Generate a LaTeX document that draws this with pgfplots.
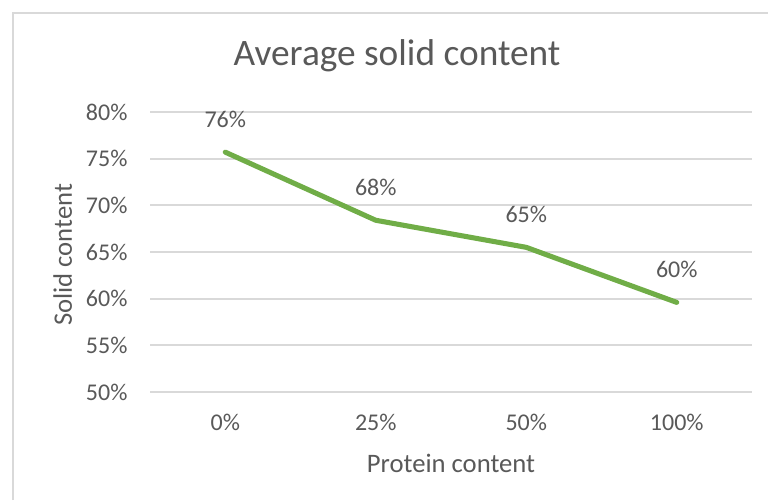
\documentclass[border=0pt]{standalone}
\usepackage{fontspec}
\setmainfont{Carlito}
\usepackage{pgfplots}
\pgfplotsset{compat=1.18}
\definecolor{txt}{HTML}{595959}
\definecolor{gridc}{HTML}{D9D9D9}
\definecolor{ln}{HTML}{70AD47}
\begin{document}
\begin{tikzpicture}
\useasboundingbox (0,0) rectangle (288pt,187.5pt);
\draw[gridc, line width=0.75pt] (4.69pt,0pt) -- (4.69pt,182.6pt) -- (288pt,182.6pt);
\node[anchor=base, text=txt, font=\fontsize{14}{17}\selectfont, inner sep=0pt] at (148.9pt,163.1pt) {Average solid content};
\begin{axis}[
  at={(56.25pt,40.5pt)}, anchor=south west,
  scale only axis, width=225.75pt, height=105pt,
  xmin=-0.5, xmax=3.5, ymin=50, ymax=80,
  xtick={0,1,2,3}, xticklabels={0\%,25\%,50\%,100\%},
  ytick={50,55,60,65,70,75,80},
  yticklabels={50\%,55\%,60\%,65\%,70\%,75\%,80\%},
  axis line style={draw=none},
  major tick length=0pt, tick style={draw=none},
  ymajorgrids, grid style={gridc, line width=0.75pt},
  ticklabel style={font=\fontsize{9}{11}\selectfont, text=txt, inner sep=0pt},
  yticklabel style={anchor=east, xshift=-8.25pt},
  xticklabel style={anchor=base, yshift=-14.25pt},
  xlabel={Protein content}, ylabel={Solid content},
  label style={font=\fontsize{10}{12}\selectfont, text=txt, inner sep=0pt},
  xlabel style={at={(axis description cs:0.5,0)}, anchor=base, yshift=-30pt},
  ylabel style={at={(axis description cs:-0.1296,0.49)}, anchor=base, rotate=0},
  clip=false,
]
\addplot[ln, line width=1.9pt, line cap=round, line join=round,
  point meta=explicit symbolic,
  nodes near coords,
  nodes near coords style={anchor=base, yshift=9.4pt, font=\fontsize{9}{11}\selectfont, text=txt, inner sep=0pt}]
  coordinates {(0,75.7) [76\%] (1,68.4) [68\%] (2,65.5) [65\%] (3,59.6) [60\%]};
\end{axis}
\end{tikzpicture}
\end{document}
